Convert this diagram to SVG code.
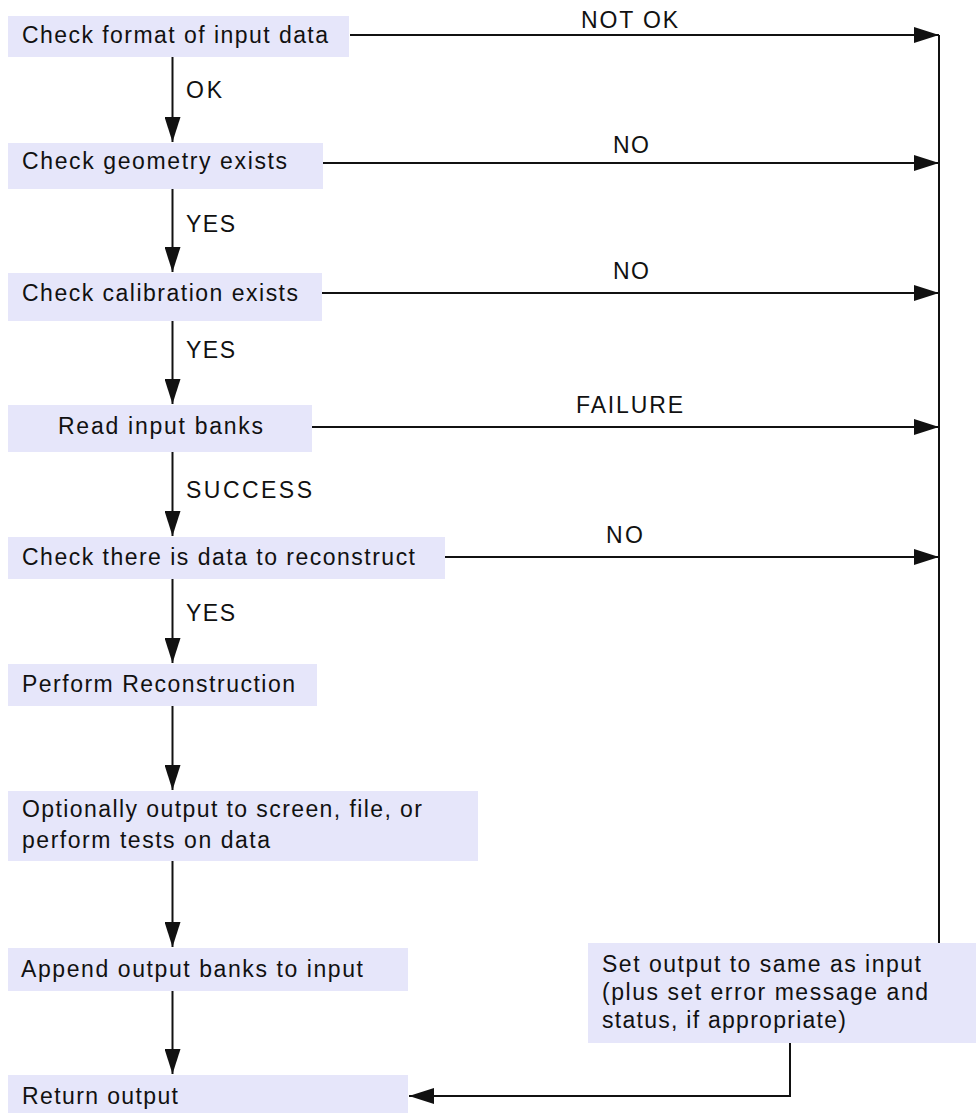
<svg xmlns="http://www.w3.org/2000/svg" width="976" height="1113" viewBox="0 0 976 1113">
<style>
.box{fill:#e6e6fa;stroke:none}
.t{font-family:"Liberation Sans",Arial,sans-serif;font-size:23px;fill:#111}
.c{fill:none;stroke:#111;stroke-width:2}
</style>
<defs>
<marker id="ah" viewBox="0 0 25 16" refX="25" refY="8" markerWidth="25" markerHeight="16" markerUnits="userSpaceOnUse" orient="auto">
<path d="M0,0 L25,8 L0,16 Z" fill="#111"/>
</marker>
</defs>
<rect width="976" height="1113" fill="#fff"/>
<g id="connectors">
<path class="c" d="M350,35 H939" marker-end="url(#ah)"/>
<path class="c" d="M323,163 H939" marker-end="url(#ah)"/>
<path class="c" d="M322,293 H939" marker-end="url(#ah)"/>
<path class="c" d="M312,427 H939" marker-end="url(#ah)"/>
<path class="c" d="M445,557 H939" marker-end="url(#ah)"/>
<path class="c" d="M939,35 V943"/>
<path class="c" d="M790,1043 V1096 H409" marker-end="url(#ah)"/>
<path class="c" d="M172.5,57 V142" marker-end="url(#ah)"/>
<path class="c" d="M172.5,189 V272" marker-end="url(#ah)"/>
<path class="c" d="M172.5,321 V404" marker-end="url(#ah)"/>
<path class="c" d="M172.5,452 V536" marker-end="url(#ah)"/>
<path class="c" d="M172.5,579 V663" marker-end="url(#ah)"/>
<path class="c" d="M172.5,706 V790" marker-end="url(#ah)"/>
<path class="c" d="M172.5,861 V947" marker-end="url(#ah)"/>
<path class="c" d="M172.5,991 V1074" marker-end="url(#ah)"/>
<text class="t" x="581" y="28" textLength="97" lengthAdjust="spacing">NOT OK</text>
<text class="t" x="186" y="98" textLength="36" lengthAdjust="spacing">OK</text>
<text class="t" x="613" y="153" textLength="36" lengthAdjust="spacing">NO</text>
<text class="t" x="186" y="232" textLength="49" lengthAdjust="spacing">YES</text>
<text class="t" x="613" y="279" textLength="36" lengthAdjust="spacing">NO</text>
<text class="t" x="186" y="358" textLength="49" lengthAdjust="spacing">YES</text>
<text class="t" x="576" y="413" textLength="107" lengthAdjust="spacing">FAILURE</text>
<text class="t" x="186" y="498" textLength="126" lengthAdjust="spacing">SUCCESS</text>
<text class="t" x="606" y="543" textLength="37" lengthAdjust="spacing">NO</text>
<text class="t" x="186" y="621" textLength="49" lengthAdjust="spacing">YES</text>
</g>
<g id="n1"><rect class="box" x="8" y="16" width="341" height="41"/><text class="t" x="22" y="43" textLength="306" lengthAdjust="spacing">Check format of input data</text></g>
<g id="n2"><rect class="box" x="8" y="143" width="315" height="46"/><text class="t" x="22" y="169" textLength="265" lengthAdjust="spacing">Check geometry exists</text></g>
<g id="n3"><rect class="box" x="8" y="273" width="314" height="48"/><text class="t" x="22" y="301" textLength="276" lengthAdjust="spacing">Check calibration exists</text></g>
<g id="n4"><rect class="box" x="8" y="405" width="304" height="47"/><text class="t" x="58" y="434" textLength="205" lengthAdjust="spacing">Read input banks</text></g>
<g id="n5"><rect class="box" x="8" y="537" width="437" height="42"/><text class="t" x="22" y="565" textLength="393" lengthAdjust="spacing">Check there is data to reconstruct</text></g>
<g id="n6"><rect class="box" x="8" y="664" width="309" height="42"/><text class="t" x="22" y="692" textLength="273" lengthAdjust="spacing">Perform Reconstruction</text></g>
<g id="n7"><rect class="box" x="8" y="791" width="470" height="70"/><text class="t" x="22" y="817" textLength="400" lengthAdjust="spacing">Optionally output to screen, file, or</text><text class="t" x="22" y="848" textLength="248" lengthAdjust="spacing">perform tests on data</text></g>
<g id="n8"><rect class="box" x="8" y="948" width="400" height="43"/><text class="t" x="21" y="977" textLength="342" lengthAdjust="spacing">Append output banks to input</text></g>
<g id="n9"><rect class="box" x="8" y="1075" width="400" height="38"/><text class="t" x="22" y="1104" textLength="156" lengthAdjust="spacing">Return output</text></g>
<g id="n10"><rect class="box" x="588" y="943" width="388" height="100"/><text class="t" x="602" y="972" textLength="319" lengthAdjust="spacing">Set output to same as input</text><text class="t" x="602" y="1000" textLength="326" lengthAdjust="spacing">(plus set error message and</text><text class="t" x="602" y="1028" textLength="244" lengthAdjust="spacing">status, if appropriate)</text></g>
</svg>
